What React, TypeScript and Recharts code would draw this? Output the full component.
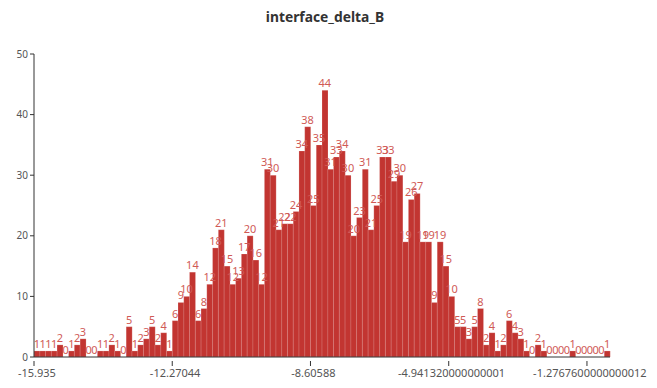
import React from "react";
import { Bar, ComposedChart, LabelList, Line, XAxis, YAxis } from "recharts";

// counts per bin, 100 bins from -15.935
const counts = [
  1, 1, 1, 1, 2, 0, 1, 2, 3, 0,
  0, 1, 1, 2, 1, 0, 5, 1, 2, 3,
  5, 2, 4, 1, 6, 9, 10, 14, 6, 8,
  12, 18, 21, 15, 12, 13, 17, 20, 16, 12,
  31, 30, 21, 22, 22, 24, 34, 38, 25, 35,
  44, 31, 33, 34, 30, 20, 23, 31, 21, 25,
  33, 33, 29, 30, 19, 26, 27, 19, 19, 9,
  19, 15, 10, 5, 5, 3, 5, 8, 2, 4,
  1, 2, 6, 4, 3, 1, 0, 2, 1, 0,
  0, 0, 0, 1, 0, 0, 0, 0, 0, 1,
];

const tickIdx = [0, 24, 48, 72, 96];
const tickLabels = [
  "-15.935",
  "-12.27044",
  "-8.60588",
  "-4.941320000000001",
  "-1.2767600000000012",
];

const yTicks = [0, 10, 20, 30, 40, 50];

const data = counts.map((v, i) => ({ idx: i, count: v }));

const FONT = "'Noto Sans', 'DejaVu Sans', sans-serif";
const BAR = "#c23531";

const XTick = (props: any) => {
  const { x, y, payload } = props;
  const pos = tickIdx.indexOf(payload.value);
  const half = 576 / counts.length / 2;
  return (
    <g>
      <line x1={x - half} x2={x - half} y1={y - 4} y2={y + 1} stroke="#333" />
      <text
        x={x}
        y={y + 12}
        textAnchor="middle"
        fill="#555"
        fontSize={11}
        fontFamily={FONT}
      >
        {pos >= 0 ? tickLabels[pos] : ""}
      </text>
    </g>
  );
};

export default function App() {
  return (
    <div
      style={{
        position: "absolute",
        left: 0,
        top: 0,
        width: 657,
        height: 388,
        background: "#fff",
      }}
    >
      <div
        style={{
          position: "absolute",
          top: 6,
          left: 325 - 100,
          width: 200,
          textAlign: "center",
          fontFamily: FONT,
          fontWeight: "bold",
          fontSize: 15,
          color: "#333",
          transform: "scaleX(0.92)",
        }}
      >
        interface_delta_B
      </div>
      <ComposedChart
        width={657}
        height={388}
        data={data}
        margin={{ top: 54, right: 47, left: 4, bottom: 6 }}
        barCategoryGap={0}
      >
        <XAxis
          dataKey="idx"
          type="category"
          ticks={tickIdx}
          interval={0}
          tick={<XTick />}
          tickLine={false}
          axisLine={{ stroke: "#333" }}
          height={25}
        />
        <YAxis
          domain={[0, 50]}
          ticks={yTicks}
          width={30}
          stroke="#333"
          tickSize={4}
          tickMargin={2}
          tick={{ fill: "#555", fontSize: 10, fontFamily: FONT }}
        />
        <Bar
          dataKey="count"
          fill={BAR}
          stroke="rgba(255,255,255,0.35)"
          strokeWidth={0.5}
          isAnimationActive={false}
        />
        <Line
          dataKey="count"
          stroke="none"
          dot={false}
          activeDot={false}
          isAnimationActive={false}
        >
          <LabelList
            dataKey="count"
            position="top"
            offset={3}
            fill="#d05a56"
            fontSize={11}
            fontFamily={FONT}
          />
        </Line>
      </ComposedChart>
    </div>
  );
}
